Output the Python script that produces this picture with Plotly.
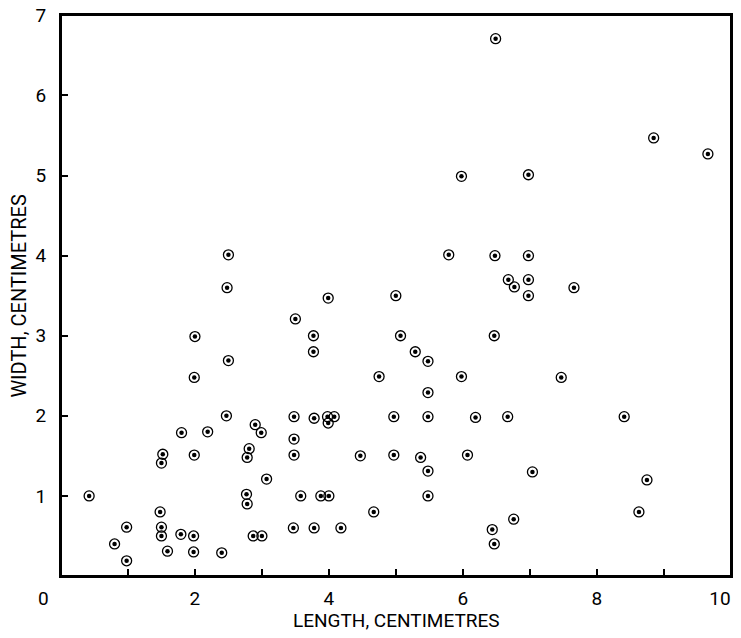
import plotly.graph_objects as go

# length / width readings (cm)
length_cm = [0.42, 0.80, 0.98, 0.98, 1.48, 1.50, 1.50, 1.52, 1.50, 1.59,
             1.79, 1.80, 1.98, 1.98, 1.99, 1.99, 2.00, 2.19, 2.40, 2.47,
             2.48, 2.50, 2.50, 2.77, 2.78, 2.78, 2.81, 2.87, 2.90, 2.99,
             3.00, 3.07, 3.47, 3.48, 3.48, 3.48, 3.50, 3.58, 3.77, 3.77,
             3.78, 3.78, 3.88, 3.98, 3.99, 3.99, 4.00, 4.08, 4.18, 4.47,
             4.67, 4.75, 4.97, 4.97, 5.00, 5.07, 5.29, 5.37, 5.48, 5.48,
             5.48, 5.48, 5.48, 5.79, 5.98, 5.98, 6.07, 6.19, 6.44, 6.47,
             6.47, 6.48, 6.49, 6.67, 6.68, 6.76, 6.77, 6.98, 6.98, 6.98,
             6.98, 7.04, 7.47, 7.66, 8.41, 8.63, 8.75, 8.85, 9.66]
width_cm = [1.00, 0.40, 0.61, 0.19, 0.80, 0.61, 0.50, 1.52, 1.41, 0.31,
            0.52, 1.79, 0.50, 0.30, 1.51, 2.48, 2.99, 1.80, 0.29, 2.00,
            3.60, 4.01, 2.69, 1.02, 0.90, 1.48, 1.59, 0.50, 1.89, 1.79,
            0.50, 1.21, 0.60, 1.51, 1.71, 1.99, 3.21, 1.00, 3.00, 2.80,
            1.97, 0.60, 1.00, 1.99, 1.91, 3.47, 1.00, 1.99, 0.60, 1.50,
            0.80, 2.49, 1.99, 1.51, 3.50, 3.00, 2.80, 1.48, 2.68, 2.29,
            1.99, 1.31, 1.00, 4.01, 4.99, 2.49, 1.51, 1.98, 0.58, 3.00,
            0.40, 4.00, 6.71, 1.99, 3.70, 0.71, 3.61, 5.01, 4.00, 3.70,
            3.50, 1.30, 2.48, 3.60, 1.99, 0.80, 1.20, 5.47, 5.27]

x_tick_vals = [1, 2, 3, 4, 5, 6, 7, 8, 9, 10]
# trailing figure spaces nudge "10" in from the right edge
x_tick_text = ['', '2', '', '4', '', '6', '', '8', '', '10\u2007\u2007']
y_ticks = [1, 2, 3, 4, 5, 6, 7]

font = "Roboto, Liberation Sans Narrow, sans-serif"

fig = go.Figure()

# ring
fig.add_trace(go.Scatter(x=length_cm, y=width_cm, mode='markers',
                         marker=dict(symbol='circle-open', size=10, color='black',
                                     line=dict(width=1.3)),
                         hoverinfo='skip'))
# centre dot
fig.add_trace(go.Scatter(x=length_cm, y=width_cm, mode='markers',
                         marker=dict(symbol='circle', size=4.5, color='black')))

axis_common = dict(showgrid=False, zeroline=False, showline=True, linecolor='black',
                   linewidth=2, mirror=True, ticks='inside', ticklen=7,
                   tickcolor='black', tickwidth=1.5, automargin=False,
                   ticklabeloverflow='allow',
                   tickfont=dict(family=font, size=19, color='black'))

# page body keeps its default 8px margin, so the figure fits inside it
fig.update_layout(
    width=725, height=622,
    template='plotly_white',
    plot_bgcolor='white', paper_bgcolor='white',
    showlegend=False,
    font=dict(family=font, color='black'),
    margin=dict(l=53, r=2, t=7, b=54, autoexpand=False),
    xaxis=dict(range=[0, 10.005], tickvals=x_tick_vals, ticktext=x_tick_text,
               ticklabelstandoff=4, **axis_common),
    yaxis=dict(range=[0, 7.005], tickvals=y_ticks, ticklabelstandoff=9,
               **axis_common),
)

# closed frame round the plot area
fig.add_shape(type='rect', xref='paper', yref='paper', x0=0, x1=1, y0=0, y1=1,
              line=dict(color='black', width=2), layer='above')

# origin label sits left of the corner in the original
fig.add_annotation(x=0, y=0, xref='x', yref='y', text='0', showarrow=False,
                   xshift=-18, yshift=-22, font=dict(family=font, size=19, color='black'))

# axis titles
fig.add_annotation(x=0.5, y=-0.08, xref='paper', yref='paper', yanchor='middle',
                   text='LENGTH, CENTIMETRES', showarrow=False,
                   font=dict(family=font, size=19, color='black'))
fig.add_annotation(x=-0.064, y=0.5, xref='paper', yref='paper', xanchor='center',
                   textangle=-90, text='WIDTH, CENTIMETRES', showarrow=False,
                   font=dict(family=font, size=20, color='black'))

fig.write_html("out.html")
